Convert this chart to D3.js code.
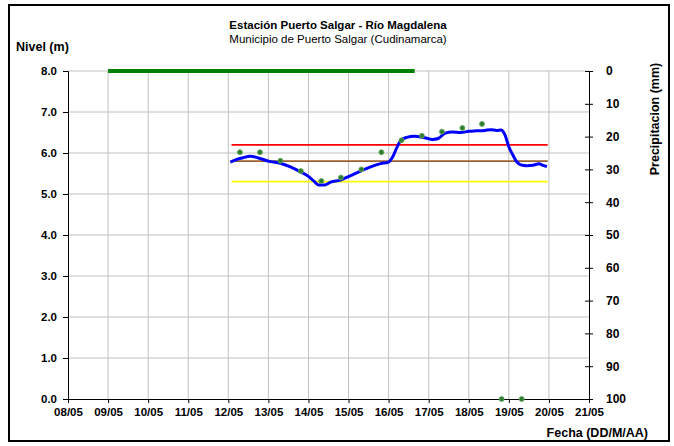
<!DOCTYPE html>
<html>
<head>
<meta charset="utf-8">
<script src="https://cdn.jsdelivr.net/npm/d3@7"></script>
<style>
  body { margin: 0; background: #fff; }
  svg { font-family: "Liberation Sans", Arial, sans-serif; }
</style>
</head>
<body>
<div id="chart"></div>
<script>
// Nivel del río y precipitación - Puerto Salgar

const dayTicks = [8, 9, 10, 11, 12, 13, 14, 15, 16, 17, 18, 19, 20, 21];
const levelTicks = [0, 1, 2, 3, 4, 5, 6, 7, 8];
const precipTicks = [0, 10, 20, 30, 40, 50, 60, 70, 80, 90, 100];

// nivel registrado (linea azul)
const levelDays = [12.05, 12.2, 12.35, 12.55, 12.75, 13.05, 13.3, 13.55, 13.8, 14.0, 14.15, 14.25, 14.4,
  14.55, 14.8, 15.05, 15.3, 15.55, 15.8, 16.0, 16.1, 16.2, 16.3, 16.45, 16.65, 16.9, 17.1, 17.25, 17.4,
  17.6, 17.8, 18.0, 18.2, 18.4, 18.55, 18.7, 18.8, 18.9, 19.0, 19.1, 19.2, 19.3, 19.45, 19.6, 19.75, 19.85, 19.95];
const levelValues = [5.78, 5.84, 5.88, 5.92, 5.88, 5.79, 5.75, 5.66, 5.54, 5.43, 5.3, 5.22, 5.22,
  5.29, 5.34, 5.45, 5.56, 5.66, 5.74, 5.78, 5.9, 6.12, 6.3, 6.38, 6.41, 6.37, 6.33, 6.36, 6.48,
  6.51, 6.5, 6.53, 6.54, 6.55, 6.57, 6.55, 6.56, 6.45, 6.15, 5.95, 5.78, 5.71, 5.69, 5.7, 5.74, 5.7, 5.67];

// lecturas de mira (puntos verdes)
const obsDays = [12.29, 12.79, 13.3, 13.81, 14.32, 14.81, 15.32, 15.82, 16.32, 16.83, 17.33, 17.84, 18.33, 18.82, 19.32];
const obsValues = [6.02, 6.02, 5.81, 5.56, 5.32, 5.40, 5.60, 6.02, 6.31, 6.42, 6.52, 6.61, 6.71, 0, 0];

// precipitacion (mm)
const precipDays = [9, 10, 11, 12, 13, 14, 15, 16, 16.65];
const precipValues = [0, 0, 0, 0, 0, 0, 0, 0, 0];

// umbrales
const thresholdRange = [12.08, 19.97];
const thresholdValues = [6.2, 5.8, 5.3];
const thresholdColors = ['#ff0000', '#9c5f30', '#ffff00'];

const width = 674, height = 446;
const margin = { top: 71, right: 85, bottom: 47, left: 68 };

const svg = d3.select('#chart')
  .append('svg')
  .attr('width', width)
  .attr('height', height);

// marco exterior
svg.append('rect')
  .attr('x', 9).attr('y', 5)
  .attr('width', 660).attr('height', 436)
  .attr('fill', 'none')
  .attr('stroke', '#000')
  .attr('stroke-width', 2);

const x = d3.scaleLinear()
  .domain([8, 21])
  .range([margin.left, width - margin.right]);

const y = d3.scaleLinear()
  .domain([0, 8])
  .range([height - margin.bottom, margin.top]);

const yP = d3.scaleLinear()
  .domain([0, 100])
  .range([margin.top, height - margin.bottom]);

const fmtDay = d => String(d).padStart(2, '0') + '/05';

// Grid
svg.append('g')
  .selectAll('line')
  .data(dayTicks.slice(1, -1))
  .enter().append('line')
  .attr('x1', d => x(d)).attr('x2', d => x(d))
  .attr('y1', y(8)).attr('y2', y(0))
  .attr('stroke', '#c0c0c0');

svg.append('g')
  .selectAll('line')
  .data(levelTicks.slice(1))
  .enter().append('line')
  .attr('x1', x(8)).attr('x2', x(21))
  .attr('y1', d => y(d)).attr('y2', d => y(d))
  .attr('stroke', '#c0c0c0');

// Axes
const xAxis = svg.append('g')
  .attr('transform', `translate(0,${y(0)})`)
  .call(d3.axisBottom(x).tickValues(dayTicks).tickFormat(fmtDay).tickSize(4).tickPadding(5));

const yAxis = svg.append('g')
  .attr('transform', `translate(${x(8)},0)`)
  .call(d3.axisLeft(y).tickValues(levelTicks).tickFormat(d3.format('.1f')).tickSize(5).tickPadding(6));

const pAxis = svg.append('g')
  .attr('transform', `translate(${x(21)},0)`)
  .call(d3.axisRight(yP).tickValues(precipTicks).tickSize(4).tickPadding(13));

pAxis.selectAll('.tick line').attr('x1', -4);

[xAxis, yAxis, pAxis].forEach(g => {
  g.select('.domain').attr('stroke', '#000');
  g.selectAll('.tick line').attr('stroke', '#000');
  g.selectAll('text')
    .style('font-size', '11.5px')
    .style('font-weight', 'bold')
    .attr('fill', '#000');
});
pAxis.selectAll('text').style('font-size', '12px');

// Umbrales
svg.append('g')
  .selectAll('line')
  .data(thresholdValues)
  .enter().append('line')
  .attr('x1', x(thresholdRange[0])).attr('x2', x(thresholdRange[1]))
  .attr('y1', d => y(d)).attr('y2', d => y(d))
  .attr('stroke', (d, i) => thresholdColors[i])
  .attr('stroke-width', 1.8);

// Precipitacion
const precipLine = d3.line()
  .x((d, i) => x(precipDays[i]))
  .y(d => yP(d));

svg.append('path')
  .datum(precipValues)
  .attr('d', precipLine)
  .attr('fill', 'none')
  .attr('stroke', '#008000')
  .attr('stroke-width', 4);

// Nivel
const levelLine = d3.line()
  .x((d, i) => x(levelDays[i]))
  .y(d => y(d))
  .curve(d3.curveMonotoneX);

svg.append('path')
  .datum(levelValues)
  .attr('d', levelLine)
  .attr('fill', 'none')
  .attr('stroke', '#0000ff')
  .attr('stroke-width', 3);

// Lecturas
svg.selectAll('.obs')
  .data(obsValues)
  .enter().append('circle')
  .attr('class', 'obs')
  .attr('cx', (d, i) => x(obsDays[i]))
  .attr('cy', d => y(d))
  .attr('r', 2.5)
  .attr('fill', '#2f7d2f')
  .attr('stroke', '#66aa66')
  .attr('stroke-width', 0.8);

// Titulos
svg.append('text')
  .attr('x', 338).attr('y', 29)
  .attr('text-anchor', 'middle')
  .style('font-size', '11.5px')
  .style('font-weight', 'bold')
  .text('Estación Puerto Salgar - Río Magdalena');

svg.append('text')
  .attr('x', 338).attr('y', 43)
  .attr('text-anchor', 'middle')
  .style('font-size', '11.5px')
  .text('Municipio de Puerto Salgar (Cudinamarca)');

svg.append('text')
  .attr('x', 16).attr('y', 51)
  .style('font-size', '12.5px')
  .style('font-weight', 'bold')
  .text('Nivel (m)');

svg.append('text')
  .attr('x', 648).attr('y', 437)
  .attr('text-anchor', 'end')
  .style('font-size', '12.5px')
  .style('font-weight', 'bold')
  .text('Fecha (DD/M/AA)');

svg.append('text')
  .attr('transform', 'translate(659,119) rotate(-90)')
  .attr('text-anchor', 'middle')
  .style('font-size', '12.5px')
  .style('font-weight', 'bold')
  .text('Precipitacion (mm)');
</script>
</body>
</html>
